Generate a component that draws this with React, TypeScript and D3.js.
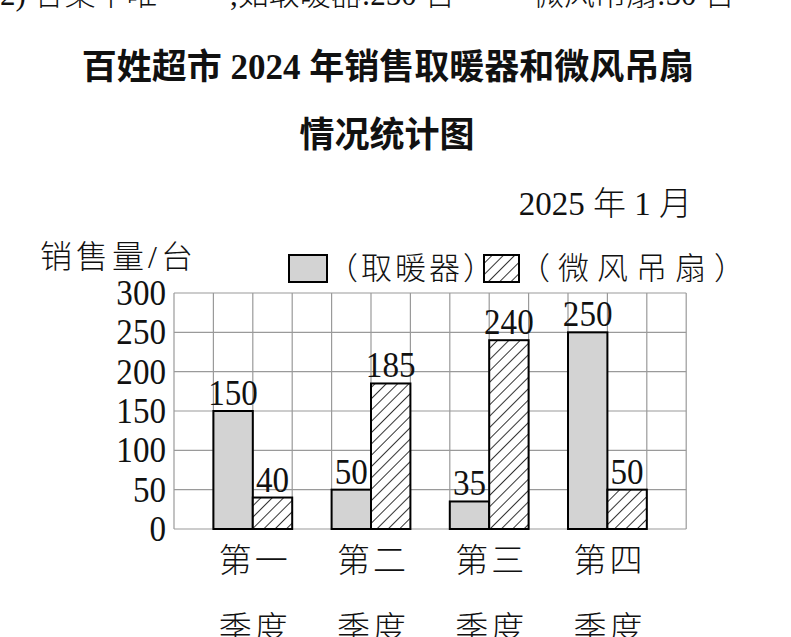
import * as d3 from "d3";

const quarters = ["第一", "第二", "第三", "第四"];
const seriesNames = ["取暖器", "微风吊扇"];
const heaterSales = [150, 50, 35, 250];
const fanSales = [40, 185, 240, 50];
const yTicks = [0, 50, 100, 150, 200, 250, 300];

const W = 791;
const H = 637;
const left = 174;
const col = 39.4;
const nCols = 13;
const right = left + col * nCols;
const top = 293;
const bottom = 529;

const mixFont = "'Liberation Serif', 'Noto Sans CJK SC', serif";
const cjkFont = "'Noto Sans CJK SC', sans-serif";

export default function App() {
  const x = d3.scaleBand<string>().domain(quarters).range([left + col * 0.5, left + col * 12.5]).padding(0);
  const sub = d3
    .scaleBand<string>()
    .domain(seriesNames)
    .range([x.bandwidth() / 2 - col, x.bandwidth() / 2 + col]);
  const y = d3.scaleLinear().domain([0, 300]).range([bottom, top]);
  const rows = d3.range(0, 301, 50);
  const cols = d3.range(0, nCols + 1);

  const bars = quarters.flatMap((q, i) => [
    { q, s: seriesNames[0], v: heaterSales[i] },
    { q, s: seriesNames[1], v: fanSales[i] },
  ]);

  return (
    <svg width={W} height={H} style={{ position: "absolute", left: 0, top: 0, background: "#fff" }}>
      <defs>
        <pattern id="hatch" patternUnits="userSpaceOnUse" width={8} height={8} patternTransform="rotate(45)">
          <rect width={8} height={8} fill="#fff" />
          <line x1={0} y1={0} x2={0} y2={8} stroke="#000" strokeWidth={1.6} />
        </pattern>
      </defs>

      {/* answer line cut off at the top edge, as in the scan */}
      <g fontFamily={mixFont} fontSize={31} fill="#111" fontWeight={300}>
        <text x={0} y={5}>2) 答案不唯一</text>
        <text x={230} y={5}>,如取暖器:250 台</text>
        <text x={533} y={5}>微风吊扇:50 台</text>
      </g>

      <g fontFamily={mixFont} fontWeight="bold" fontSize={35} fill="#111" textAnchor="middle">
        <text x={388} y={79}>百姓超市 2024 年销售取暖器和微风吊扇</text>
        <text x={387} y={147}>情况统计图</text>
      </g>

      <text x={692} y={215} textAnchor="end" fontFamily={mixFont} fontSize={33} fill="#111" fontWeight={300}>
        2025 年 1 月
      </text>

      <text x={40} y={268} fontFamily={mixFont} fontSize={32} fill="#111" fontWeight={300} letterSpacing={4}>
        销售量/台
      </text>

      {/* legend */}
      <rect x={289} y={255} width={38} height={27} fill="#d3d3d3" stroke="#000" strokeWidth={2} />
      <text x={327} y={279} fontFamily={cjkFont} fontSize={31} fill="#111" fontWeight={300} letterSpacing={3}>
        （取暖器）
      </text>
      <rect x={484} y={255} width={35} height={27} fill="url(#hatch)" stroke="#000" strokeWidth={2} />
      <text x={519} y={279} fontFamily={cjkFont} fontSize={31} fill="#111" fontWeight={300} letterSpacing={8}>
        （微风吊扇）
      </text>

      {/* grid */}
      <g stroke="#9a9a9a" strokeWidth={1.2}>
        {rows.map((r) => (
          <line key={"r" + r} x1={left} x2={right} y1={y(r)} y2={y(r)} />
        ))}
        {cols.map((c) => (
          <line key={"c" + c} x1={left + c * col} x2={left + c * col} y1={top} y2={bottom} />
        ))}
      </g>

      {/* y tick labels */}
      <g fontFamily="'Liberation Serif', serif" fontSize={36} fill="#111" textAnchor="end">
        {yTicks.map((t) => (
          <text key={t} transform={`translate(166,${y(t) + 12}) scale(0.92,1)`}>
            {t}
          </text>
        ))}
      </g>

      {/* bars */}
      {bars.map((b) => (
        <rect
          key={b.q + b.s}
          x={(x(b.q) ?? 0) + (sub(b.s) ?? 0)}
          y={y(b.v)}
          width={sub.bandwidth()}
          height={bottom - y(b.v)}
          fill={b.s === seriesNames[0] ? "#d3d3d3" : "url(#hatch)"}
          stroke="#000"
          strokeWidth={2}
        />
      ))}

      {/* value labels */}
      <g fontFamily="'Liberation Serif', serif" fontSize={36} fill="#111" textAnchor="middle">
        {bars.map((b) => (
          <text
            key={"l" + b.q + b.s}
            transform={`translate(${(x(b.q) ?? 0) + (sub(b.s) ?? 0) + sub.bandwidth() / 2},${y(b.v) - 6}) scale(0.92,1)`}
          >
            {b.v}
          </text>
        ))}
      </g>

      {/* category labels */}
      <g fontFamily={cjkFont} fontSize={33} fill="#111" fontWeight={300} textAnchor="middle" letterSpacing={3}>
        {quarters.map((q) => (
          <g key={q}>
            <text x={(x(q) ?? 0) + x.bandwidth() / 2 + 2} y={572}>
              {q}
            </text>
            <text x={(x(q) ?? 0) + x.bandwidth() / 2 + 2} y={640}>
              季度
            </text>
          </g>
        ))}
      </g>
    </svg>
  );
}
